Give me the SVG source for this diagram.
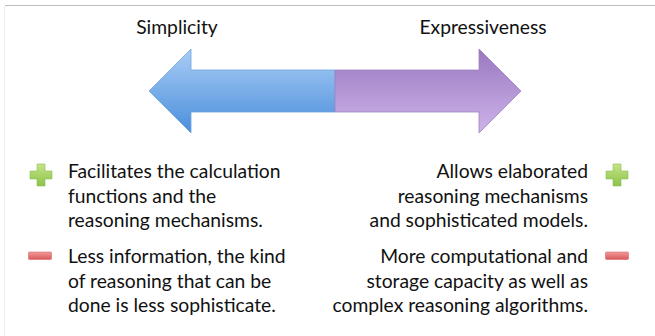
<svg xmlns="http://www.w3.org/2000/svg" width="655" height="336" viewBox="0 0 655 336">
<defs>
<linearGradient id="gBlue" x1="0" y1="0" x2="0" y2="1">
<stop offset="0" stop-color="#a9cdf6"/>
<stop offset="1" stop-color="#4a8edb"/>
</linearGradient>
<linearGradient id="gPurple" x1="0" y1="0" x2="0" y2="1">
<stop offset="0" stop-color="#9a78bf"/>
<stop offset="1" stop-color="#cdb3ea"/>
</linearGradient>
<linearGradient id="gGreen" x1="0" y1="0" x2="0" y2="1">
<stop offset="0" stop-color="#c4e487"/>
<stop offset="1" stop-color="#8cc24a"/>
</linearGradient>
<linearGradient id="gRed" x1="0" y1="0" x2="0" y2="1">
<stop offset="0" stop-color="#f29a9a"/>
<stop offset="1" stop-color="#d95858"/>
</linearGradient>
<path id="plus" d="M-4,-11 H4 V-4 H11 V4 H4 V11 H-4 V4 H-11 V-4 H-4 Z"/>
</defs>
<style>
text{font-family:Lato,"Liberation Sans",sans-serif;font-size:19.3px;fill:#111}
.r{text-anchor:end}
.c{text-anchor:middle}
.plus{fill:url(#gGreen);stroke:#8fbf55;stroke-width:0.6}
.minus{fill:url(#gRed);stroke:#d56a6a;stroke-width:0.6}
</style>
<rect width="655" height="336" fill="#fff"/>
<line x1="5" y1="5.5" x2="655" y2="5.5" stroke="#bdbdbd" stroke-width="1.2"/>
<line x1="4.5" y1="6" x2="4.5" y2="336" stroke="#efefef" stroke-width="1"/>
<g id="titles">
<text class="c" x="177" y="34">Simplicity</text>
<text class="c" x="483" y="34">Expressiveness</text>
</g>
<g id="arrow">
<path d="M335,70 H191 V49 L149,91 L191,133 V112 H335 Z" fill="url(#gBlue)" stroke="#6fa3dc" stroke-width="0.8"/>
<path d="M335,70 H479 V49 L521,91 L479,133 V112 H335 Z" fill="url(#gPurple)" stroke="#9d83c4" stroke-width="0.8"/>
</g>
<g id="left-plus">
<use href="#plus" class="plus" x="41" y="175"/>
<text x="68" y="178">Facilitates the calculation</text>
<text x="68" y="202.5">functions and the</text>
<text x="68" y="227">reasoning mechanisms.</text>
</g>
<g id="left-minus">
<rect class="minus" x="28.5" y="252" width="23" height="7.5" rx="1"/>
<text x="68" y="263">Less information, the kind</text>
<text x="68" y="287.5">of reasoning that can be</text>
<text x="68" y="312">done is less sophisticate.</text>
</g>
<g id="right-plus">
<use href="#plus" class="plus" x="617" y="175"/>
<text class="r" x="588" y="178">Allows elaborated</text>
<text class="r" x="588" y="202.5">reasoning mechanisms</text>
<text class="r" x="588" y="227">and sophisticated models.</text>
</g>
<g id="right-minus">
<rect class="minus" x="605.5" y="252" width="23" height="7.5" rx="1"/>
<text class="r" x="588" y="263">More computational and</text>
<text class="r" x="588" y="287.5">storage capacity as well as</text>
<text class="r" x="588" y="312">complex reasoning algorithms.</text>
</g>
</svg>
